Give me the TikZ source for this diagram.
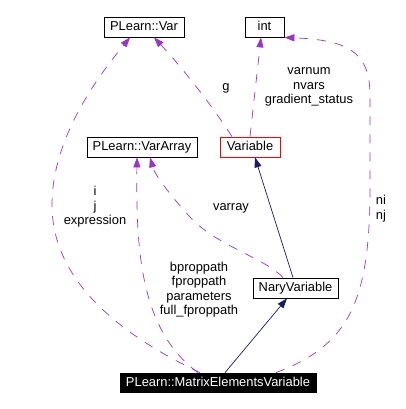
\documentclass[tikz,border=0pt]{standalone}
\usepackage{fontspec}
\setmainfont{Liberation Sans}
\usetikzlibrary{arrows.meta}
\definecolor{depc}{HTML}{9A32CD}
\definecolor{inhc}{HTML}{191970}
\begin{document}
\begin{tikzpicture}[x=1bp,y=-1bp,
  txt/.style={font=\fontsize{12.9bp}{14.5bp}\selectfont},
  box/.style={txt,draw=black,line width=0.8bp,inner sep=0pt,minimum height=20bp,text height=9.5bp,text depth=2.5bp},
  lab/.style={txt,align=center,inner sep=0pt},
  dep/.style={draw=depc,line width=0.7bp,dash pattern=on 9bp off 9bp,-{Triangle[length=10bp,width=7bp]}},
  inh/.style={draw=inhc,line width=0.7bp,-{Triangle[length=10bp,width=7bp]}}]
\useasboundingbox (0,0) rectangle (406,409);
\node[box,minimum width=80bp] (var) at (144,27) {PLearn::Var};
\node[box,minimum width=39bp] (int) at (264.5,27) {int};
\node[box,minimum width=110bp] (vararray) at (142,147) {PLearn::VarArray};
\node[box,draw=red,minimum width=60bp] (variable) at (250,147) {Variable};
\node[box,minimum width=85bp] (nary) at (295.5,288) {NaryVariable};
\node[box,fill=black,text=white,minimum width=196bp,minimum height=19bp] (mev) at (218,382.5) {PLearn::MatrixElementsVariable};
% inheritance
\draw[inh] ([xshift=7bp]mev.north) -- ([xshift=-8.5bp]nary.south);
\draw[inh] ([xshift=-2.5bp]nary.north) -- ([xshift=5bp]variable.south);
% dependencies
\draw[dep] ([xshift=-18bp]variable.north) .. controls (205,95) and (175,60) .. ([xshift=10bp]var.south);
\draw[dep] (variable.north) .. controls (254,100) and (258,65) .. ([xshift=-3.5bp]int.south);
\draw[dep] ([xshift=-18bp]mev.north) .. controls (110,330) and (52,275) .. (52,205) .. controls (52,140) and (95,80) .. ([xshift=-14bp]var.south);
\draw[dep] ([xshift=-20bp]mev.north) .. controls (140,330) and (136,250) .. ([xshift=-5bp]vararray.south);
\draw[dep] ([xshift=-12.5bp]nary.north) .. controls (265,258) and (215,245) .. (190,217) .. controls (170,195) and (155,175) .. ([xshift=8bp]vararray.south);
\draw[dep] ([xshift=58bp]mev.north) .. controls (350,345) and (368,300) .. (370,200) -- (370,95) .. controls (370,50) and (345,40) .. (int.south east);
% labels
\node[lab] (lg) at (226,88) {g};
\node[lab] (lvn) at (309,87) {varnum\\nvars\\gradient\_status};
\node[lab] (lij) at (95,207) {i\\j\\expression};
\node[lab] (lbp) at (199,289.5) {bproppath\\fproppath\\parameters\\full\_fproppath};
\node[lab] (lva) at (231,208) {varray};
\node[lab,align=left] (lni) at (381,208.5) {ni\\nj};
\end{tikzpicture}
\end{document}
